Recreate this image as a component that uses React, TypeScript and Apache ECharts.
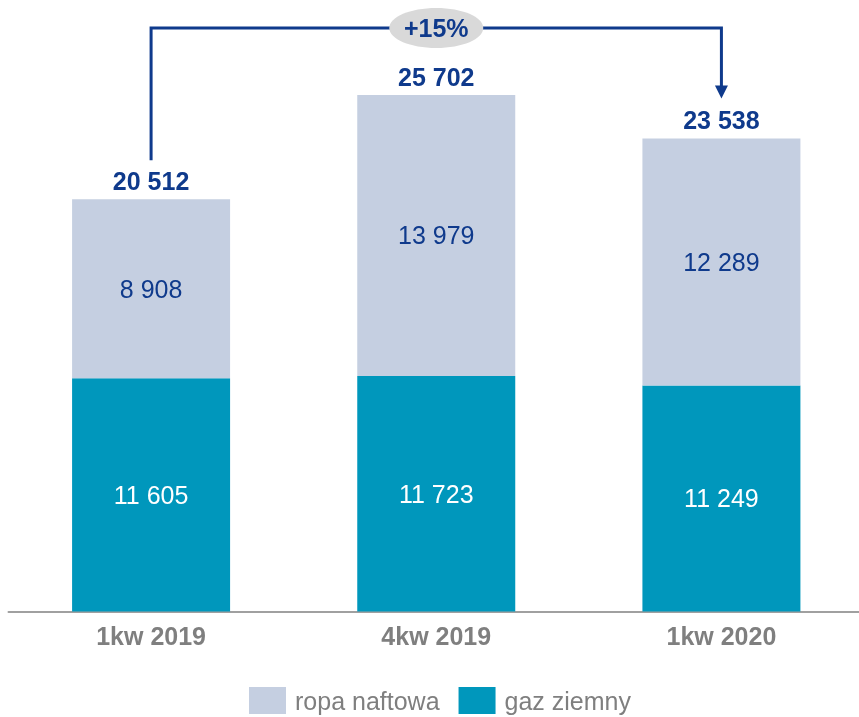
import React, { useEffect, useRef } from "react";
import * as echarts from "echarts";

const categories = ["1kw 2019", "4kw 2019", "1kw 2020"];
const gazZiemny = [11605, 11723, 11249];
const ropaNaftowa = [8908, 13979, 12289];
const totals = [20512, 25702, 23538];
const changeLabel = "+15%";

const DARK = "#0F3A8C";
const LIGHT = "#C5CFE1";
const TEAL = "#0097BC";
const GRAY = "#7F7F7F";
const FONT = "'Liberation Sans', Arial, sans-serif";

const fmt = (n: number) => String(n).replace(/\B(?=(\d{3})+(?!\d))/g, " ");

export default function App() {
  const ref = useRef<HTMLDivElement>(null);
  useEffect(() => {
    if (!ref.current) return;
    const chart = echarts.init(ref.current, undefined, { renderer: "svg" });
    chart.setOption({
      animation: false,
      textStyle: { fontFamily: FONT },
      grid: { left: 8.5, top: 8.6, right: 0, height: 602.9 },
      legend: {
        data: ["ropa naftowa", "gaz ziemny"],
        left: 249,
        top: 687,
        padding: 0,
        itemWidth: 37,
        itemHeight: 27,
        itemGap: 19,
        icon: "rect",
        textStyle: { fontSize: 25, color: GRAY, fontFamily: FONT, padding: [0, 0, 0, 4] },
      },
      xAxis: {
        type: "category",
        data: categories,
        axisTick: { show: false },
        axisLine: { lineStyle: { color: "#A0A0A0", width: 2 } },
        axisLabel: { fontSize: 25, fontWeight: "bold", color: GRAY, margin: 12, fontFamily: FONT },
      },
      yAxis: { type: "value", min: 0, max: 30000, show: false, splitLine: { show: false } },
      series: [
        {
          name: "gaz ziemny",
          type: "bar",
          stack: "s",
          barWidth: 158,
          data: gazZiemny,
          itemStyle: { color: TEAL },
          label: { show: true, position: "inside", fontSize: 25, color: "#FFFFFF", fontFamily: FONT, formatter: (p: any) => fmt(p.value) },
        },
        {
          name: "ropa naftowa",
          type: "bar",
          stack: "s",
          barWidth: 158,
          data: ropaNaftowa,
          itemStyle: { color: LIGHT },
          label: { show: true, position: "inside", fontSize: 25, color: DARK, fontFamily: FONT, formatter: (p: any) => fmt(p.value) },
        },
        {
          name: "suma",
          type: "scatter",
          data: totals,
          symbolSize: 1,
          itemStyle: { color: "rgba(0,0,0,0)", opacity: 1 },
          label: {
            show: true,
            position: "top",
            distance: 5,
            fontSize: 25,
            fontWeight: "bold",
            color: DARK,
            opacity: 1,
            fontFamily: FONT,
            formatter: (p: any) => fmt(p.value),
          },
        },
      ],
    });

    const p0 = chart.convertToPixel({ gridIndex: 0 }, [0, totals[0]]) as number[];
    const p1 = chart.convertToPixel({ gridIndex: 0 }, [1, totals[1]]) as number[];
    const p2 = chart.convertToPixel({ gridIndex: 0 }, [2, totals[2]]) as number[];
    const lineY = p1[1] - 67;
    const startY = p0[1] - 39;
    const tipY = p2[1] - 40;
    const headH = 13;
    const headW = 6.5;
    const midX = (p0[0] + p2[0]) / 2;
    chart.setOption({
      graphic: [
        {
          type: "polyline",
          shape: { points: [[p0[0], startY], [p0[0], lineY], [p2[0], lineY], [p2[0], tipY - headH + 1]] },
          style: { stroke: DARK, lineWidth: 3, fill: null },
          z: 10,
        },
        {
          type: "polygon",
          shape: { points: [[p2[0] - headW, tipY - headH], [p2[0] + headW, tipY - headH], [p2[0], tipY]] },
          style: { fill: DARK },
          z: 10,
        },
        {
          type: "ellipse",
          shape: { cx: midX, cy: lineY, rx: 47, ry: 20 },
          style: { fill: "#D9D9D9" },
          z: 11,
        },
        {
          type: "text",
          x: midX,
          y: lineY,
          style: {
            text: changeLabel,
            fill: DARK,
            font: `bold 25px ${FONT}`,
            align: "center",
            verticalAlign: "middle",
          },
          z: 12,
        },
      ],
    });

    return () => chart.dispose();
  }, []);
  return <div ref={ref} style={{ position: "fixed", left: 0, top: 0, width: 864, height: 717 }} />;
}
